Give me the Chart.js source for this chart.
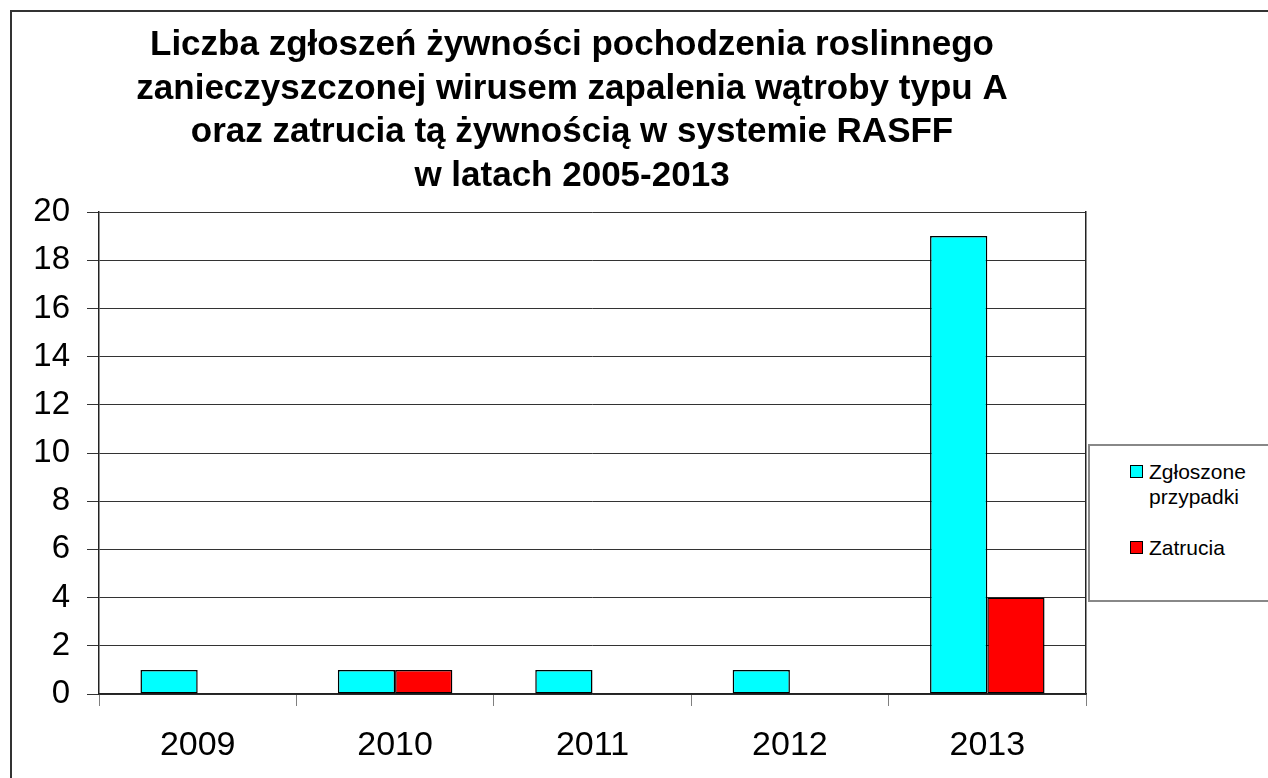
<!DOCTYPE html>
<html lang="pl">
<head>
<meta charset="utf-8">
<script src="https://cdn.jsdelivr.net/npm/chart.js@4"></script>
<style>
    html, body { margin: 0; padding: 0; background: #fff; overflow: hidden; }
    #wrap   { position: relative; width: 1268px; height: 778px; overflow: hidden; }
    #frame  { position: absolute; left: 10px; top: 10px; width: 2000px; height: 2000px;
              border-left: 2px solid #333; border-top: 2px solid #333; }
    #chart  { position: absolute; left: 0; top: 0; }
    #legend { position: absolute; left: 1088px; top: 444px; width: 300px; height: 154px;
              border: 2px solid #888; background: #fff;
              font-family: "Liberation Sans", Arial, sans-serif; font-size: 21px; color: #000; }
    .lg-item { position: absolute; left: 40px; line-height: 25px; }
    .lg-box  { position: absolute; left: 0; top: 6px; width: 11px; height: 11px; border: 1px solid #000; }
    .lg-text { margin-left: 19px; }
</style>
</head>
<body>
<div id="wrap">
    <div id="frame"></div>
    <canvas id="chart" width="1268" height="778"></canvas>
    <div id="legend"></div>
</div>
<script>
const TITLE_LINES = [
    'Liczba zgłoszeń żywności pochodzenia roslinnego',
    'zanieczyszczonej wirusem zapalenia wątroby typu A',
    'oraz zatrucia tą żywnością w systemie RASFF',
    'w latach 2005-2013'
];
const YEARS        = ['2009', '2010', '2011', '2012', '2013'];
const REPORTED     = [1, 1, 1, 1, 19];
const POISONINGS   = [0, 1, 0, 0, 4];
const SERIES_NAMES = [['Zgłoszone', 'przypadki'], ['Zatrucia']];
const SERIES_COLORS = ['#00ffff', '#ff0000'];

const FONT = '"Liberation Sans", Arial, sans-serif';
const W = 1268, H = 778;
const PLOT_LEFT = 99, PLOT_RIGHT = 1086, PLOT_BOTTOM = 694;
const RIGHT_PAD = 124;

function mkDataset(label, values, color) {
    return {
        label,
        data: values,
        backgroundColor: color,
        borderColor: '#000',
        borderWidth: 1.5,
        borderSkipped: false,
        barPercentage: 1.0,
        categoryPercentage: 0.58,
    };
}

new Chart(document.getElementById('chart').getContext('2d'), {
    type: 'bar',
    data: {
        labels: YEARS,
        datasets: [
            mkDataset(SERIES_NAMES[0].join(' '), REPORTED,   SERIES_COLORS[0]),
            mkDataset(SERIES_NAMES[1].join(' '), POISONINGS, SERIES_COLORS[1]),
        ],
    },
    options: {
        responsive: false,
        animation: false,
        layout: { padding: { left: 0, right: RIGHT_PAD, top: 0, bottom: 0 } },
        plugins: {
            legend: { display: false },
            tooltip: { enabled: false },
            title: {
                display: true,
                text: TITLE_LINES,
                color: '#000',
                font: { family: FONT, size: 35, weight: 'bold', lineHeight: 1.243 },
                padding: { top: 24, bottom: 14 },
            },
        },
        scales: {
            x: {
                grid: { drawOnChartArea: false, drawTicks: true, tickLength: 12, color: '#808080', offset: true },
                border: { color: '#222', width: 1.5 },
                ticks: { color: '#000', font: { family: FONT, size: 34 }, padding: 19 },
                afterFit: s => { s.height = H - PLOT_BOTTOM; },
            },
            y: {
                min: 0,
                max: 20,
                ticks: { stepSize: 2, color: '#000', font: { family: FONT, size: 33 }, padding: 17 },
                grid: { color: '#333', lineWidth: 1, tickLength: 12 },
                border: { color: '#222', width: 1.5 },
                afterFit: s => { s.width = PLOT_LEFT; },
            },
            y2: {
                position: 'right',
                min: 0,
                max: 20,
                ticks: { display: false },
                grid: { drawOnChartArea: false, drawTicks: false },
                border: { color: '#222', width: 1.5 },
                afterFit: s => { s.width = W - RIGHT_PAD - PLOT_RIGHT; },
            },
        },
    },
});

// legend box, same layout as the original (text wrapped onto two lines)
const legendEl = document.getElementById('legend');
const legendTops = [13, 89];
SERIES_NAMES.forEach((lines, i) => {
    const item = document.createElement('div');
    item.className = 'lg-item';
    item.style.top = legendTops[i] + 'px';
    const box = document.createElement('div');
    box.className = 'lg-box';
    box.style.background = SERIES_COLORS[i];
    const txt = document.createElement('div');
    txt.className = 'lg-text';
    txt.innerHTML = lines.join('<br>');
    item.appendChild(box);
    item.appendChild(txt);
    legendEl.appendChild(item);
});
</script>
</body>
</html>
